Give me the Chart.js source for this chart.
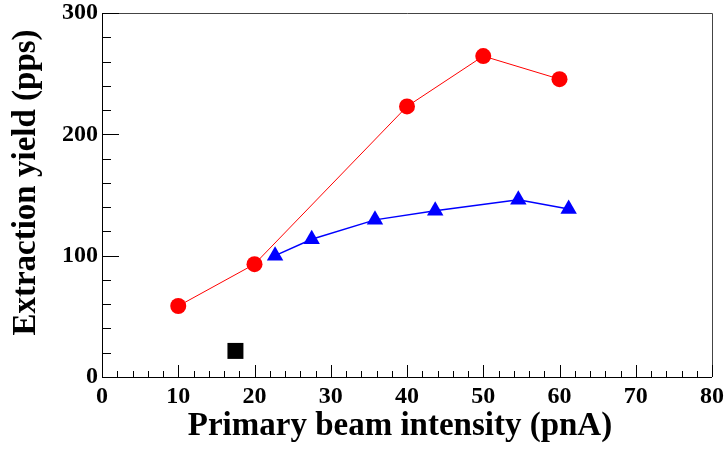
<!DOCTYPE html>
<html>
<head>
<meta charset="utf-8">
<script src="https://cdn.jsdelivr.net/npm/chart.js@4/dist/chart.umd.min.js"></script>
<style>
html,body{margin:0;padding:0;background:#fff;}
#wrap{width:726px;height:450px;}
</style>
</head>
<body>
<div id="wrap"><canvas id="c" width="726" height="450"></canvas></div>
<script>
// Data
const redX = [10, 20, 40, 50, 60];
const redY = [58.5, 93, 223, 264.5, 245.5];
const blueX = [22.7, 27.5, 35.8, 43.7, 54.6, 61.2];
const blueY = [100, 113.5, 129.5, 137, 146, 138.5];
const blackX = [17.5];
const blackY = [21.5];
const xTickLabels = [0, 10, 20, 30, 40, 50, 60, 70, 80];
const yTickLabels = [0, 100, 200, 300];
const xTitle = 'Primary beam intensity (pnA)';
const yTitle = 'Extraction yield (pps)';

const pts = (xs, ys) => xs.map((x, i) => ({x: x, y: ys[i]}));
const FONT = '"Liberation Serif", "Times New Roman", serif';

const frameTicks = {
  id: 'frameTicks',
  afterDraw(chart) {
    const ctx = chart.ctx, a = chart.chartArea;
    const xs = chart.scales.x, ys = chart.scales.y;
    ctx.save();
    ctx.lineWidth = 1;
    // top & right frame
    ctx.strokeStyle = '#444';
    ctx.beginPath();
    ctx.moveTo(a.left, a.top + 0.5); ctx.lineTo(a.right + 0.5, a.top + 0.5);
    ctx.lineTo(a.right + 0.5, a.bottom);
    ctx.stroke();
    // axes
    ctx.strokeStyle = '#000';
    ctx.beginPath();
    ctx.moveTo(a.left + 0.5, a.top); ctx.lineTo(a.left + 0.5, a.bottom + 0.5);
    ctx.lineTo(a.right, a.bottom + 0.5);
    ctx.stroke();
    // inner ticks
    ctx.beginPath();
    for (let v = xs.min; v <= xs.max + 1e-9; v += 2) {
      const px = Math.round(xs.getPixelForValue(v)) + 0.5;
      const len = (Math.round(v) % 10 === 0) ? 12 : 6;
      ctx.moveTo(px, a.bottom); ctx.lineTo(px, a.bottom - len);
    }
    for (let v = ys.min; v <= ys.max + 1e-9; v += 20) {
      const py = Math.round(ys.getPixelForValue(v)) + 0.5;
      const len = (Math.round(v) % 100 === 0) ? 17 : 9;
      ctx.moveTo(a.left, py); ctx.lineTo(a.left + len, py);
    }
    ctx.stroke();
    // axis titles
    ctx.fillStyle = '#000';
    ctx.font = 'bold 33px ' + FONT;
    ctx.textAlign = 'center';
    ctx.textBaseline = 'alphabetic';
    ctx.fillText(xTitle, 400, 435);
    ctx.translate(35, 182.5);
    ctx.rotate(-Math.PI / 2);
    ctx.fillText(yTitle, 0, 0);
    ctx.restore();
  }
};

new Chart(document.getElementById('c'), {
  type: 'scatter',
  data: {
    datasets: [
      {
        label: 'red',
        data: pts(redX, redY),
        showLine: true,
        borderColor: '#ff0000',
        backgroundColor: '#ff0000',
        borderWidth: 1,
        pointStyle: 'circle',
        pointRadius: 8,
        pointBorderWidth: 0,
        pointHoverRadius: 8
      },
      {
        label: 'blue',
        data: pts(blueX, blueY),
        showLine: true,
        borderColor: '#0000ff',
        backgroundColor: '#0000ff',
        borderWidth: 1.5,
        pointStyle: 'triangle',
        pointRadius: 9.5,
        pointBorderWidth: 0,
        pointHoverRadius: 9.5
      },
      {
        label: 'black',
        data: pts(blackX, blackY),
        showLine: false,
        borderColor: '#000',
        backgroundColor: '#000',
        pointStyle: 'rect',
        pointRadius: 11.3,
        pointBorderWidth: 0,
        pointHoverRadius: 11.3
      }
    ]
  },
  options: {
    responsive: false,
    animation: false,
    clip: false,
    layout: {padding: {left: 0, right: 14, top: 13, bottom: 0}},
    plugins: {legend: {display: false}, tooltip: {enabled: false}},
    scales: {
      x: {
        type: 'linear', min: 0, max: 80,
        afterFit(s) { s.height = 73; s.paddingLeft = 0; s.paddingRight = 0; },
        afterBuildTicks(s) { s.ticks = xTickLabels.map(v => ({value: v})); },
        grid: {display: false, drawTicks: false},
        border: {display: false},
        ticks: {color: '#000', padding: 5, maxRotation: 0, autoSkip: false,
                font: {family: FONT, size: 24, weight: 'bold'}},
        title: {display: false}
      },
      y: {
        type: 'linear', min: 0, max: 300,
        afterFit(s) { s.width = 102; s.paddingTop = 0; s.paddingBottom = 0; },
        afterBuildTicks(s) { s.ticks = yTickLabels.map(v => ({value: v})); },
        grid: {display: false, drawTicks: false},
        border: {display: false},
        ticks: {color: '#000', padding: 4, autoSkip: false,
                font: {family: FONT, size: 24, weight: 'bold'}},
        title: {display: false}
      }
    }
  },
  plugins: [frameTicks]
});
</script>
</body>
</html>
